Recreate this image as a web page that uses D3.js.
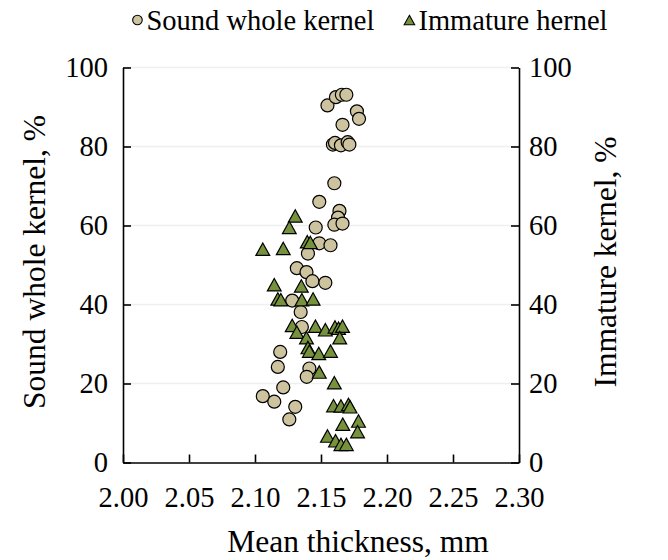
<!DOCTYPE html>
<html>
<head>
<meta charset="utf-8">
<script src="https://cdn.jsdelivr.net/npm/d3@7/dist/d3.min.js"></script>
<style>
  html, body { margin: 0; padding: 0; background: #fff; }
  svg text { font-family: "Liberation Serif", "Times New Roman", serif; fill: #000; }
</style>
</head>
<body>
<svg id="chart" width="668" height="560"></svg>
<script>
// Mean kernel thickness (mm) against sound whole kernel share (%)
const soundThickness = [
  2.1549, 2.1613, 2.1658, 2.1692, 2.1772, 2.1788, 2.1663,
  2.1590, 2.1606, 2.1651, 2.1702, 2.1715,
  2.1601, 2.1487, 2.1640, 2.1629, 2.1601, 2.1663, 2.1460,
  2.1487, 2.1572, 2.1401, 2.1317, 2.1390, 2.1435, 2.1533,
  2.1282, 2.1346, 2.1355, 2.1191, 2.1173, 2.1412, 2.1392,
  2.1214, 2.1059, 2.1146, 2.1305, 2.1260
];
const soundPct = [
  90.4, 92.5, 93.1, 93.1, 88.9, 87.0, 85.5,
  80.5, 80.9, 80.3, 81.1, 80.5,
  70.7, 66.0, 63.7, 62.0, 60.2, 60.5, 59.5,
  55.5, 55.0, 52.9, 49.2, 48.2, 45.9, 45.5,
  41.0, 38.1, 34.3, 28.0, 24.2, 23.8, 21.7,
  19.0, 16.8, 15.4, 14.1, 10.9
];

// Mean kernel thickness (mm) against immature kernel share (%)
const immatureThickness = [
  2.1305, 2.1260, 2.1396, 2.1419, 2.1059, 2.1214,
  2.1146, 2.1351, 2.1173, 2.1196, 2.1355, 2.1440,
  2.1282, 2.1458, 2.1533, 2.1606, 2.1633, 2.1663,
  2.1317, 2.1390, 2.1642, 2.1401, 2.1412, 2.1483, 2.1572,
  2.1487, 2.1601, 2.1595, 2.1651, 2.1708, 2.1720,
  2.1784, 2.1665, 2.1777, 2.1549, 2.1610, 2.1651, 2.1692
];
const immaturePct = [
  62.4, 59.5, 55.9, 55.7, 54.0, 54.2,
  45.0, 44.7, 41.4, 41.2, 41.2, 41.4,
  34.7, 34.5, 33.6, 34.3, 34.0, 34.5,
  33.0, 31.6, 31.6, 29.1, 28.2, 27.6, 28.2,
  22.9, 20.2, 14.4, 14.3, 14.7, 14.1,
  10.5, 9.7, 7.8, 6.7, 5.5, 4.6, 4.6
];

const xTicks = [2.00, 2.05, 2.10, 2.15, 2.20, 2.25, 2.30];
const yTicks = [0, 20, 40, 60, 80, 100];

const seriesNames = ["Sound whole kernel", "Immature hernel"];
const xTitle = "Mean thickness, mm";
const yTitleLeft = "Sound whole kernel, %";
const yTitleRight = "Immature kernel, %";

const soundColor = "#cdc49f";
const immatureColor = "#76923c";
const fontFamily = "'Liberation Serif', 'Times New Roman', serif";
const tickFont = 28.5;
const titleFont = 31.5;
const legendFont = 28.5;

const svg = d3.select("#chart").attr("font-family", fontFamily);
const plot = { left: 123, right: 519, top: 67.5, bottom: 462.5 };

const x = d3.scaleLinear().domain([2.00, 2.30]).range([plot.left, plot.right]);
const y = d3.scaleLinear().domain([0, 100]).range([plot.bottom, plot.top]);

// Triangle marker centred on its bounding box
const triangle = {
  draw(context, size) {
    const w = Math.sqrt(size);
    const h = w * 0.9;
    context.moveTo(0, -h / 2);
    context.lineTo(w / 2, h / 2);
    context.lineTo(-w / 2, h / 2);
    context.closePath();
  }
};

// Horizontal gridlines
svg.append("g")
  .selectAll("line")
  .data(yTicks.filter(v => v > 0))
  .join("line")
  .attr("x1", plot.left).attr("x2", plot.right)
  .attr("y1", d => y(d)).attr("y2", d => y(d))
  .attr("stroke", "#efefef")
  .attr("stroke-width", 1.5);

// Axes with inward ticks
function styleAxis(g) {
  g.attr("font-family", fontFamily).attr("font-size", tickFont);
  g.selectAll("path.domain").attr("stroke", "#000").attr("stroke-width", 1.6);
  g.selectAll(".tick line").attr("stroke", "#000").attr("stroke-width", 1.6);
  g.selectAll(".tick text").attr("fill", "#000");
}

svg.append("g")
  .attr("transform", `translate(0,${plot.bottom})`)
  .call(d3.axisBottom(x).tickValues(xTicks).tickFormat(d3.format(".2f"))
    .tickSizeInner(-8).tickSizeOuter(0).tickPadding(24))
  .call(styleAxis);

svg.append("g")
  .attr("transform", `translate(${plot.left},0)`)
  .call(d3.axisLeft(y).tickValues(yTicks).tickFormat(d3.format("d"))
    .tickSizeInner(-8).tickSizeOuter(0).tickPadding(15))
  .call(styleAxis);

svg.append("g")
  .attr("transform", `translate(${plot.right},0)`)
  .call(d3.axisRight(y).tickValues(yTicks).tickFormat(d3.format("d"))
    .tickSizeInner(-8).tickSizeOuter(0).tickPadding(10))
  .call(styleAxis);

// Sound whole kernel points
svg.append("g")
  .selectAll("circle")
  .data(soundThickness.map((t, i) => [t, soundPct[i]]))
  .join("circle")
  .attr("cx", d => x(d[0]))
  .attr("cy", d => y(d[1]))
  .attr("r", 6.5)
  .attr("fill", soundColor)
  .attr("stroke", "#000")
  .attr("stroke-width", 1.2);

// Immature kernel points
const triPath = d3.symbol().type(triangle).size(190);
svg.append("g")
  .selectAll("path")
  .data(immatureThickness.map((t, i) => [t, immaturePct[i]]))
  .join("path")
  .attr("transform", d => `translate(${x(d[0])},${y(d[1])})`)
  .attr("d", triPath)
  .attr("fill", immatureColor)
  .attr("stroke", "#000")
  .attr("stroke-width", 1.2);

// Axis titles
svg.append("text")
  .attr("x", 358)
  .attr("y", 552)
  .attr("text-anchor", "middle")
  .attr("font-size", titleFont)
  .text(xTitle);

svg.append("text")
  .attr("transform", `translate(45,262) rotate(-90)`)
  .attr("text-anchor", "middle")
  .attr("font-size", titleFont)
  .text(yTitleLeft);

svg.append("text")
  .attr("transform", `translate(616,262) rotate(-90)`)
  .attr("text-anchor", "middle")
  .attr("font-size", titleFont)
  .text(yTitleRight);

// Legend
const legend = svg.append("g");
const legendY = 20;
const items = [
  { name: seriesNames[0], kind: "circle", color: soundColor },
  { name: seriesNames[1], kind: "triangle", color: immatureColor }
];
let cursor = 0;
items.forEach((it, i) => {
  const g = legend.append("g").attr("transform", `translate(${cursor},0)`);
  if (it.kind === "circle") {
    g.append("circle").attr("cx", 5).attr("cy", legendY).attr("r", 4.8)
      .attr("fill", it.color).attr("stroke", "#000").attr("stroke-width", 1.1);
  } else {
    g.append("path").attr("transform", `translate(5,${legendY})`)
      .attr("d", d3.symbol().type(triangle).size(110)())
      .attr("fill", it.color).attr("stroke", "#000").attr("stroke-width", 1.1);
  }
  const t = g.append("text").attr("x", 14).attr("y", legendY + 10)
    .attr("font-size", legendFont).text(it.name);
  cursor += 14 + t.node().getComputedTextLength() + (i === 0 ? 30 : 0);
});
legend.attr("transform", `translate(${370 - cursor / 2},0)`);
</script>
</body>
</html>
